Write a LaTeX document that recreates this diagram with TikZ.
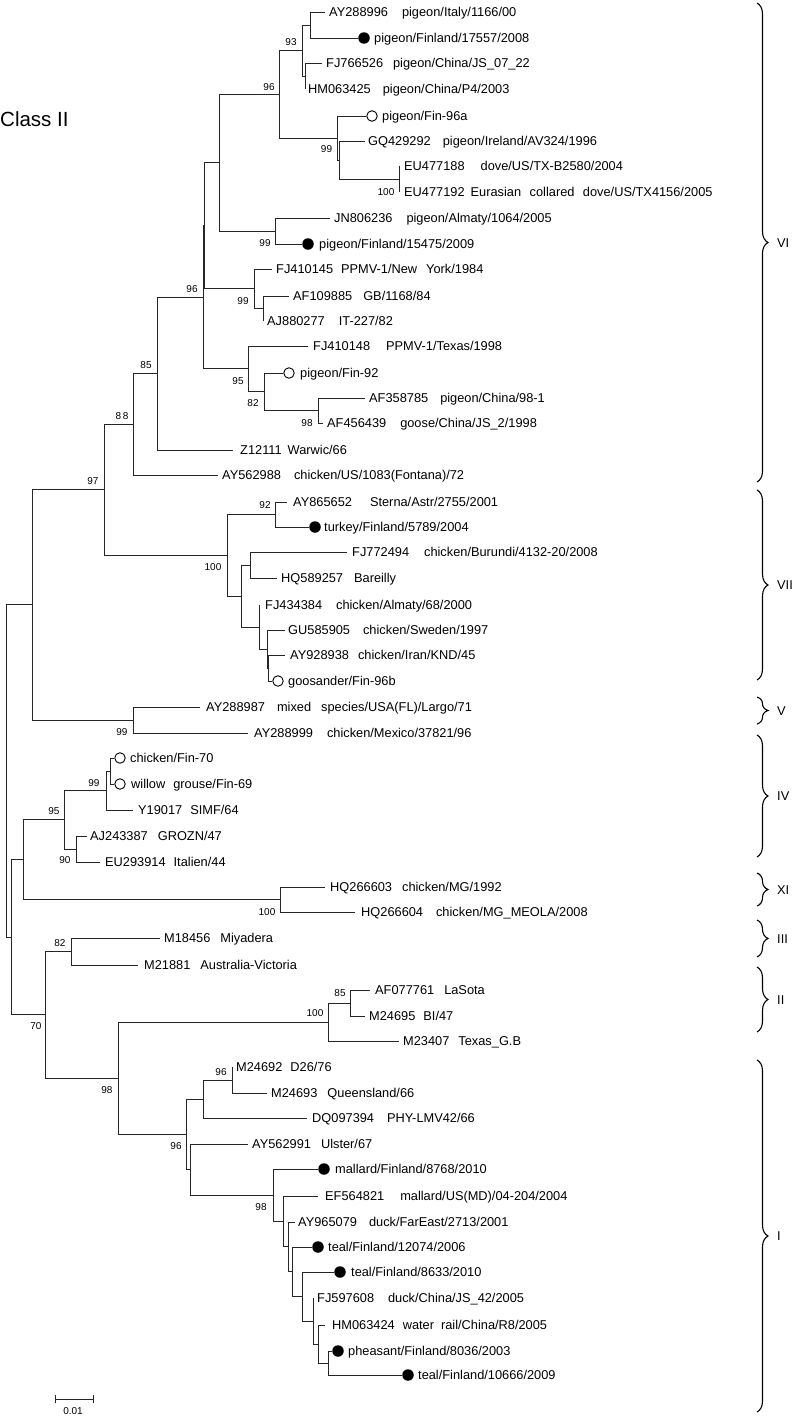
\documentclass[tikz,border=0pt]{standalone}
\usepackage{fontspec}
\setmainfont{Liberation Sans}
\usetikzlibrary{decorations.pathreplacing}
\begin{document}
\begin{tikzpicture}[x=1pt,y=-1pt,
  br/.style={line width=1pt,black!85},
  lab/.style={font=\fontsize{12.8}{14}\selectfont,anchor=west,inner sep=0pt,text height=9.2pt,text depth=0pt},
  bs/.style={font=\fontsize{10}{11}\selectfont,inner sep=0pt,text height=7.2pt,text depth=0pt},
  fdot/.style={circle,fill=black,inner sep=0pt,minimum size=11.5pt},
  odot/.style={circle,draw=black,line width=0.9pt,fill=white,inner sep=0pt,minimum size=10.5pt},
  clade/.style={decorate,decoration={brace,amplitude=11pt,aspect=0.5},line width=1.1pt},
  cl/.style={font=\fontsize{12.8}{14}\selectfont,anchor=west,inner sep=0pt,text height=9.2pt,text depth=0pt}]
\useasboundingbox (0,0) rectangle (800,1416);
\newcommand{\g}[1]{\hspace{#1pt}}
% internal nodes
\coordinate (root) at (6,771);
\coordinate (Ln) at (11,937.2);
\coordinate (J) at (32,604.9);
\coordinate (N97) at (104,489.8);
\coordinate (N88) at (133,424.3);
\coordinate (N85) at (157,373.6);
\coordinate (N96b) at (203,297.3);
\coordinate (Fy) at (204.5,225.7);
\coordinate (F) at (219,162.6);
\coordinate (N96a) at (279,94.25);
\coordinate (N93) at (302,50.5);
\coordinate (A) at (310,25);
\coordinate (C) at (305,76);
\coordinate (N99a) at (337,138);
\coordinate (D) at (339,160);
\coordinate (E) at (399,179);
\coordinate (N99b) at (275,231);
\coordinate (N99c) at (254,288.75);
\coordinate (G) at (263,308.5);
\coordinate (N95a) at (248,368.9);
\coordinate (N82) at (264,391.75);
\coordinate (N98a) at (318,410.5);
\coordinate (N100a) at (227,555.25);
\coordinate (N92) at (275,514.5);
\coordinate (Ii) at (241,596);
\coordinate (H) at (250,565);
\coordinate (R) at (259,627);
\coordinate (P) at (267,649);
\coordinate (Q) at (268.5,668);
\coordinate (N99d) at (133,720);
\coordinate (K) at (23,859.6);
\coordinate (N95b) at (64,819.75);
\coordinate (N99e) at (106,790.5);
\coordinate (S) at (110,771);
\coordinate (N90) at (76,849);
\coordinate (N100b) at (280,899.5);
\coordinate (N70) at (45,1014.8);
\coordinate (N82b) at (71,951.5);
\coordinate (N98b) at (118,1078.2);
\coordinate (N100c) at (328,1022);
\coordinate (N85b) at (350,1003);
\coordinate (N96d) at (186,1134.3);
\coordinate (M) at (203,1099);
\coordinate (N96c) at (232,1080);
\coordinate (O) at (190,1169.6);
\coordinate (N98c) at (273,1195.2);
\coordinate (T) at (283,1221.4);
\coordinate (U) at (288,1246.9);
\coordinate (V) at (292,1271.75);
\coordinate (W) at (302,1296.5);
\coordinate (X) at (313,1321);
\coordinate (Yb) at (318,1344);
\coordinate (Z) at (328,1363);
% leaf tips
\coordinate (t1) at (325,12);
\node[fdot] (d2) at (364,38) {};
\coordinate (t3) at (322,63);
\coordinate (t4) at (305,89);
\node[odot] (d5) at (372,116) {};
\coordinate (t6) at (365,141);
\coordinate (t7) at (399,166);
\coordinate (t8) at (399,192);
\coordinate (t9) at (330,218);
\node[fdot] (d10) at (308,244) {};
\coordinate (t11) at (272,269);
\coordinate (t12) at (289,296);
\coordinate (t13) at (263,321);
\coordinate (t14) at (308,346);
\node[odot] (d15) at (289,373) {};
\coordinate (t16) at (365,398);
\coordinate (t17) at (323,423);
\coordinate (t18) at (233,450);
\coordinate (t19) at (218,475);
\coordinate (t20) at (287,502);
\node[fdot] (d21) at (315,527) {};
\coordinate (t22) at (347,552);
\coordinate (t23) at (277,578);
\coordinate (t24) at (260,605);
\coordinate (t25) at (285,630);
\coordinate (t26) at (285,655);
\node[odot] (d27) at (278,681) {};
\coordinate (t28) at (200,707);
\coordinate (t29) at (248,733);
\node[odot] (d30) at (120,758) {};
\node[odot] (d31) at (120,784) {};
\coordinate (t32) at (133,810);
\coordinate (t33) at (87,836);
\coordinate (t34) at (100,862);
\coordinate (t35) at (325,887);
\coordinate (t36) at (355,912);
\coordinate (t37) at (160,938);
\coordinate (t38) at (138,965);
\coordinate (t39) at (370,990);
\coordinate (t40) at (365,1016);
\coordinate (t41) at (399,1041);
\coordinate (t42) at (232,1067);
\coordinate (t43) at (267,1093);
\coordinate (t44) at (307,1118);
\coordinate (t45) at (248,1144);
\node[fdot] (d46) at (324,1169) {};
\coordinate (t47) at (318,1196);
\coordinate (t48) at (295,1222);
\node[fdot] (d49) at (318,1247) {};
\node[fdot] (d50) at (340,1272) {};
\coordinate (t51) at (313,1298);
\coordinate (t52) at (325,1325);
\node[fdot] (d53) at (338,1351) {};
\node[fdot] (d54) at (408,1375) {};
% branches
\foreach \p/\c in {root/J,root/Ln,Ln/K,Ln/N70,J/N97,J/N99d,N97/N88,N97/N100a,N88/N85,N88/t19,
  N85/N96b,N85/t18,N96b/Fy,N96b/N95a,Fy/F,Fy/N99c,F/N96a,F/N99b,N96a/N93,N96a/N99a,
  N93/A,N93/C,A/t1,C/t3,C/t4,N99a/D,D/t6,D/E,E/t7,E/t8,N99b/t9,N99c/t11,N99c/G,G/t12,G/t13,
  N95a/t14,N95a/N82,N82/N98a,N98a/t16,N98a/t17,N100a/N92,N100a/Ii,N92/t20,Ii/H,Ii/R,
  H/t22,H/t23,R/t24,R/P,P/t25,P/Q,Q/t26,N99d/t28,N99d/t29,K/N95b,K/N100b,N95b/N99e,N95b/N90,
  N99e/S,N99e/t32,N90/t33,N90/t34,N100b/t35,N100b/t36,N70/N82b,N70/N98b,N82b/t37,N82b/t38,
  N98b/N100c,N98b/N96d,N100c/N85b,N100c/t41,N85b/t39,N85b/t40,N96d/M,N96d/O,M/N96c,M/t44,
  N96c/t42,N96c/t43,O/t45,O/N98c,N98c/T,T/t47,T/U,U/t48,U/V,V/W,W/X,X/t51,X/Yb,Yb/t52,Yb/Z}
  {\draw[br] (\p) |- (\c);}
\foreach \p/\c in {A/d2,N99a/d5,N99b/d10,N82/d15,N92/d21,Q/d27,S/d30,S/d31,N98c/d46,V/d49,W/d50,Z/d53,Z/d54}
  {\draw[br] (\p) |- (\c.west);}
% leaf labels
\node[lab] (n1) at (329,12) {AY288996\g{14}pigeon/Italy/1166/00};
\node[lab] (n2) at (374,38) {pigeon/Finland/17557/2008};
\node[lab] (n3) at (326,63) {FJ766526\g{10}pigeon/China/JS\_07\_22};
\node[lab] (n4) at (308,89) {HM063425\g{12}pigeon/China/P4/2003};
\node[lab] (n5) at (382,116) {pigeon/Fin-96a};
\node[lab] (n6) at (368,141) {GQ429292\g{12}pigeon/Ireland/AV324/1996};
\node[lab] (n7) at (404,166) {EU477188\g{16}dove/US/TX-B2580/2004};
\node[lab] (n8) at (404,192) {EU477192\g{6}Eurasian\g{8.5}collared\g{8.5}dove/US/TX4156/2005};
\node[lab] (n9) at (334,218) {JN806236\g{14}pigeon/Almaty/1064/2005};
\node[lab] (n10) at (319,244) {pigeon/Finland/15475/2009};
\node[lab] (n11) at (276,269) {FJ410145\g{8}PPMV-1/New\g{9}York/1984};
\node[lab] (n12) at (293,296) {AF109885\g{11}GB/1168/84};
\node[lab] (n13) at (267,321) {AJ880277\g{14}IT-227/82};
\node[lab] (n14) at (313,346) {FJ410148\g{16}PPMV-1/Texas/1998};
\node[lab] (n15) at (300,373) {pigeon/Fin-92};
\node[lab] (n16) at (369,398) {AF358785\g{12}pigeon/China/98-1};
\node[lab] (n17) at (327,423) {AF456439\g{14}goose/China/JS\_2/1998};
\node[lab] (n18) at (240,450) {Z12111\g{6}Warwic/66};
\node[lab] (n19) at (222,475) {AY562988\g{13}chicken/US/1083(Fontana)/72};
\node[lab] (n20) at (293,502) {AY865652\g{18}Sterna/Astr/2755/2001};
\node[lab] (n21) at (324,527) {turkey/Finland/5789/2004};
\node[lab] (n22) at (352,552) {FJ772494\g{15}chicken/Burundi/4132-20/2008};
\node[lab] (n23) at (281,578) {HQ589257\g{11}Bareilly};
\node[lab] (n24) at (265,605) {FJ434384\g{14}chicken/Almaty/68/2000};
\node[lab] (n25) at (288,630) {GU585905\g{13}chicken/Sweden/1997};
\node[lab] (n26) at (290,655) {AY928938\g{9}chicken/Iran/KND/45};
\node[lab] (n27) at (288,681) {goosander/Fin-96b};
\node[lab] (n28) at (206,707) {AY288987\g{12}mixed\g{10}species/USA(FL)/Largo/71};
\node[lab] (n29) at (254,733) {AY288999\g{14}chicken/Mexico/37821/96};
\node[lab] (n30) at (130,758) {chicken/Fin-70};
\node[lab] (n31) at (131,784) {willow\g{8}grouse/Fin-69};
\node[lab] (n32) at (138,810) {Y19017\g{8}SIMF/64};
\node[lab] (n33) at (90,836) {AJ243387\g{10}GROZN/47};
\node[lab] (n34) at (105,862) {EU293914\g{8}Italien/44};
\node[lab] (n35) at (330,887) {HQ266603\g{10}chicken/MG/1992};
\node[lab] (n36) at (361,912) {HQ266604\g{13}chicken/MG\_MEOLA/2008};
\node[lab] (n37) at (164,938) {M18456\g{10}Miyadera};
\node[lab] (n38) at (144,965) {M21881\g{10}Australia-Victoria};
\node[lab] (n39) at (375,990) {AF077761\g{10}LaSota};
\node[lab] (n40) at (369,1016) {M24695\g{8}BI/47};
\node[lab] (n41) at (403,1041) {M23407\g{9}Texas\_G.B};
\node[lab] (n42) at (236,1067) {M24692\g{8}D26/76};
\node[lab] (n43) at (271,1093) {M24693\g{10}Queensland/66};
\node[lab] (n44) at (312,1118) {DQ097394\g{13}PHY-LMV42/66};
\node[lab] (n45) at (252,1144) {AY562991\g{10}Ulster/67};
\node[lab] (n46) at (335,1169) {mallard/Finland/8768/2010};
\node[lab] (n47) at (325,1196) {EF564821\g{16}mallard/US(MD)/04-204/2004};
\node[lab] (n48) at (298,1222) {AY965079\g{12}duck/FarEast/2713/2001};
\node[lab] (n49) at (328,1247) {teal/Finland/12074/2006};
\node[lab] (n50) at (351,1272) {teal/Finland/8633/2010};
\node[lab] (n51) at (317,1298) {FJ597608\g{14}duck/China/JS\_42/2005};
\node[lab] (n52) at (332,1325) {HM063424\g{8}water\g{7}rail/China/R8/2005};
\node[lab] (n53) at (348,1351) {pheasant/Finland/8036/2003};
\node[lab] (n54) at (418,1375) {teal/Finland/10666/2009};
% bootstrap values
\node[bs] (b1) at (291,42) {93};
\node[bs] (b2) at (326.5,149) {99};
\node[bs] (b3) at (386,192) {100};
\node[bs] (b4) at (269,87) {96};
\node[bs] (b5) at (265,243) {99};
\node[bs] (b6) at (243,301) {99};
\node[bs] (b7) at (192,289) {96};
\node[bs] (b8) at (238,381) {95};
\node[bs] (b9) at (253,403) {82};
\node[bs] (b10) at (307,423) {98};
\node[bs] (b11) at (146,365) {85};
\node[bs] (b12) at (122,416) {8\,8};
\node[bs] (b13) at (93,481) {97};
\node[bs] (b14) at (265,505) {92};
\node[bs] (b15) at (213,567) {100};
\node[bs] (b16) at (122,732) {99};
\node[bs] (b17) at (94,783) {99};
\node[bs] (b18) at (54,811) {95};
\node[bs] (b19) at (65,860) {90};
\node[bs] (b20) at (267,912) {100};
\node[bs] (b21) at (60,943) {82};
\node[bs] (b22) at (36,1026) {70};
\node[bs] (b23) at (340,993) {85};
\node[bs] (b24) at (315,1013) {100};
\node[bs] (b25) at (107,1090) {98};
\node[bs] (b26) at (221,1072) {96};
\node[bs] (b27) at (176,1146) {96};
\node[bs] (b28) at (261,1207) {98};
% title
\node[font=\fontsize{20.5}{22}\selectfont,anchor=west,inner sep=0pt,text height=14.7pt,text depth=0pt] (title) at (0,119) {Class II};
% scale bar
\coordinate (s1) at (55,1399);
\coordinate (s2) at (93,1399);
\draw[br] (s1) -- (s2);
\draw[br] ([yshift=-4pt]s1) -- ([yshift=4pt]s1);
\draw[br] ([yshift=-4pt]s2) -- ([yshift=4pt]s2);
\node[bs] (sc) at (73,1411) {0.01};
% clade braces
\foreach \nm/\a/\b/\lbl in {VI/3/482/VI, VII/490/680/VII, V/697/724/V, IV/735/857/IV, XI/873/906/XI, III/920/957/III, II/967/1032/II, I/1060/1412/I}{
  \coordinate (\nm top) at (757,\a);
  \coordinate (\nm bot) at (757,\b);
  \draw[clade] (\nm top) -- (\nm bot);
  \node[cl] (\nm lab) at (777,{(\a+\b)/2}) {\lbl};
}
\end{tikzpicture}
\end{document}
